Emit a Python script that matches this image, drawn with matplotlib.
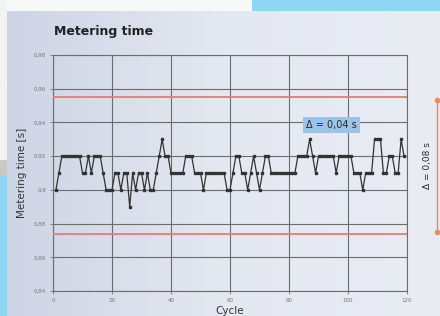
import numpy as np
import matplotlib
matplotlib.use('Agg')
import matplotlib.pyplot as plt
from matplotlib.patches import Rectangle

# ------ DATA -------------------------
cycles = list(range(1, 120))
metering_time = [
    0.90, 0.91, 0.92, 0.92, 0.92, 0.92, 0.92, 0.92, 0.92, 0.91,   # 1-10
    0.91, 0.92, 0.91, 0.92, 0.92, 0.92, 0.91, 0.90, 0.90, 0.90,   # 11-20
    0.91, 0.91, 0.90, 0.91, 0.91, 0.89, 0.91, 0.90, 0.91, 0.91,   # 21-30
    0.90, 0.91, 0.90, 0.90, 0.91, 0.92, 0.93, 0.92, 0.92, 0.91,   # 31-40
    0.91, 0.91, 0.91, 0.91, 0.92, 0.92, 0.92, 0.91, 0.91, 0.91,   # 41-50
    0.90, 0.91, 0.91, 0.91, 0.91, 0.91, 0.91, 0.91, 0.90, 0.90,   # 51-60
    0.91, 0.92, 0.92, 0.91, 0.91, 0.90, 0.91, 0.92, 0.91, 0.90,   # 61-70
    0.91, 0.92, 0.92, 0.91, 0.91, 0.91, 0.91, 0.91, 0.91, 0.91,   # 71-80
    0.91, 0.91, 0.92, 0.92, 0.92, 0.92, 0.93, 0.92, 0.91, 0.92,   # 81-90
    0.92, 0.92, 0.92, 0.92, 0.92, 0.91, 0.92, 0.92, 0.92, 0.92,   # 91-100
    0.92, 0.91, 0.91, 0.91, 0.90, 0.91, 0.91, 0.91, 0.93, 0.93,   # 101-110
    0.93, 0.91, 0.91, 0.92, 0.92, 0.91, 0.91, 0.93, 0.92,         # 111-119
]
upper_limit = 0.955
lower_limit = 0.874

x_ticks = [0, 20, 40, 60, 80, 100, 120]
y_ticks = [0.84, 0.86, 0.88, 0.90, 0.92, 0.94, 0.96, 0.98]
y_tick_labels = ['0,84', '0,86', '0,88', '0,9', '0,92', '0,94', '0,96', '0,98']

W, H = 440, 316


def fx(px):
    return px / W


def fy(py):
    return 1 - py / H


# ------ BACKGROUND -------------------------
fig = plt.figure(figsize=(4.4, 3.16), dpi=100)
fig.patch.set_facecolor('#8dd6f4')

# spreadsheet strip behind the panel
fig.patches.append(Rectangle((0, fy(11)), fx(252), 11 / H, transform=fig.transFigure,
                             facecolor='#f7f8f8', edgecolor='none', zorder=0))
fig.patches.append(Rectangle((0, fy(160)), fx(7), 160 / H, transform=fig.transFigure,
                             facecolor='#f3f4f2', edgecolor='none', zorder=0))
fig.patches.append(Rectangle((0, fy(176)), fx(7), 16 / H, transform=fig.transFigure,
                             facecolor='#c9cbc2', edgecolor='none', zorder=0))
for yy in [3, 8]:
    fig.lines.append(plt.Line2D([fx(30), fx(240)], [fy(yy), fy(yy)], transform=fig.transFigure,
                                color='#d0d2d4', lw=0.6, ls=(0, (3, 8)), zorder=0))

# gradient panel
bg = fig.add_axes([fx(7), 0, 1 - fx(7), fy(11)], zorder=0)
grad = np.linspace(0, 1, 256).reshape(1, -1)
cmap = matplotlib.colors.LinearSegmentedColormap.from_list('panel', ['#cdd4e4', '#e4e8f1', '#e9ecf3'])
bg.imshow(grad, aspect='auto', cmap=cmap, extent=[0, 1, 0, 1])
bg.axis('off')

# ------ CHART -------------------------
ax = fig.add_axes([fx(53), fy(291), fx(407) - fx(53), (291 - 55) / H], zorder=2)
ax.set_facecolor('none')

ax.plot(cycles, metering_time, color='#333333', lw=0.9, marker='s', markersize=1.8, zorder=4)
ax.axhline(upper_limit, color='#e87c72', lw=1.3, zorder=3)
ax.axhline(lower_limit, color='#e87c72', lw=1.3, zorder=3)

ax.set_xlim(0, 120)
ax.set_ylim(0.84, 0.98)
ax.set_xticks(x_ticks)
ax.set_xticklabels([str(t) for t in x_ticks])
ax.set_yticks(y_ticks)
ax.set_yticklabels(y_tick_labels)
ax.tick_params(labelsize=4, colors='#777777', length=2, width=0.6, pad=3)
ax.grid(True, color='#6c6c6c', lw=0.8)
for s in ax.spines.values():
    s.set_color('#6c6c6c')
    s.set_linewidth(0.8)

ax.set_ylabel('Metering time [s]', fontsize=7.5, color='#333333', labelpad=5)
ax.set_xlabel('Cycle', fontsize=7.5, color='#333333', labelpad=2)

# delta box
ax.text(94.5, 0.9385, '\u0394 = 0,04 s', fontsize=7, color='#2a2a2a', ha='center', va='center',
        bbox=dict(boxstyle='square,pad=0.3', facecolor='#9cc4e8', edgecolor='none'), zorder=5)

# title
fig.text(fx(54), fy(31), 'Metering time', fontsize=9, fontweight='bold', color='#222222',
         ha='left', va='center')

# outer delta bracket
fig.lines.append(plt.Line2D([fx(437), fx(437)], [fy(100), fy(232)], transform=fig.transFigure,
                            color='#ee8a5a', lw=1.0, zorder=5))
fig.lines.append(plt.Line2D([fx(437), fx(437)], [fy(100), fy(232)], transform=fig.transFigure,
                            color='#ee8a5a', lw=0, marker='o', markersize=3, zorder=5))
fig.text(fx(427), fy(166), '\u0394 = 0,08 s', fontsize=6.5, color='#2a2a2a', rotation=90,
         ha='center', va='center')

plt.savefig('out.png', dpi=100, facecolor=fig.get_facecolor())
